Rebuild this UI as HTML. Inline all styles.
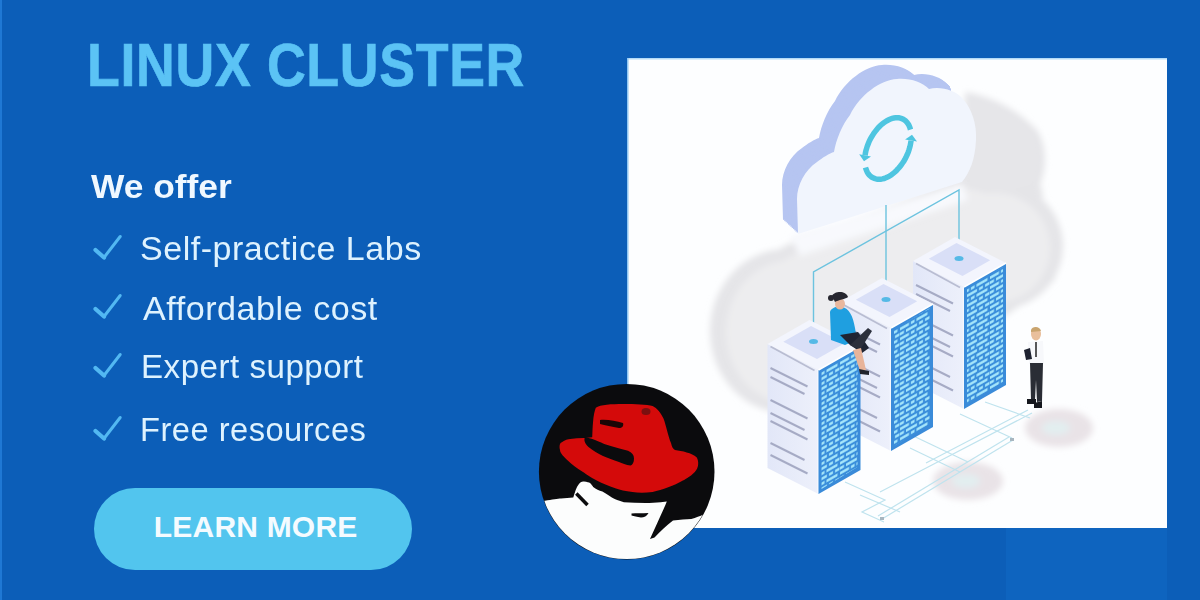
<!DOCTYPE html>
<html><head><meta charset="utf-8">
<style>
*{margin:0;padding:0;box-sizing:border-box}
html,body{width:1200px;height:600px;overflow:hidden;background:#0c5eb8}
body{position:relative;font-family:"Liberation Sans",sans-serif}
.abs{position:absolute;white-space:nowrap}
#title{left:86.6px;top:35px;-webkit-text-stroke:0.7px #5bc3f5;font-size:61px;font-weight:bold;color:#5bc3f5;line-height:1;letter-spacing:0.75px;transform:scaleX(0.88);transform-origin:0 0}
#offer{left:91.1px;top:169px;font-size:34px;font-weight:bold;color:#f0f8ff;line-height:1;transform:scaleX(1.04);transform-origin:0 0}
.li{font-size:33px;color:#def2fe;line-height:1;letter-spacing:0.5px;transform-origin:0 0}
.ck{left:93px;width:30px;height:26px}
#btn{left:94px;top:488px;width:318px;height:82px;border-radius:41px;background:#52c5ee}
#btntxt{left:153.8px;top:512px;font-size:30px;font-weight:bold;color:#f4fbff;line-height:1;letter-spacing:0.2px}
#band{left:1006px;top:528px;width:161px;height:72px;background:#0e64bf}
</style></head><body>
<div class="abs" id="band"></div>
<div class="abs" style="left:0;top:0;width:2px;height:600px;background:#1f78d4"></div>
<div class="abs" id="title">LINUX CLUSTER</div>
<div class="abs" id="offer">We offer</div>
<svg class="abs ck" style="top:234px" viewBox="0 0 30 26"><path d="M2.5 16 L11 23.5" stroke="#52b8f2" stroke-width="4.2" stroke-linecap="round"/><path d="M11 23.5 L27.2 2.5" stroke="#52b8f2" stroke-width="3" stroke-linecap="round"/></svg>
<div class="abs li" style="left:140.3px;top:232px;transform:scaleX(1.0315)">Self-practice Labs</div>
<svg class="abs ck" style="top:293px" viewBox="0 0 30 26"><path d="M2.5 16 L11 23.5" stroke="#52b8f2" stroke-width="4.2" stroke-linecap="round"/><path d="M11 23.5 L27.2 2.5" stroke="#52b8f2" stroke-width="3" stroke-linecap="round"/></svg>
<div class="abs li" style="left:142.5px;top:292px;transform:scaleX(1.0343)">Affordable cost</div>
<svg class="abs ck" style="top:352px" viewBox="0 0 30 26"><path d="M2.5 16 L11 23.5" stroke="#52b8f2" stroke-width="4.2" stroke-linecap="round"/><path d="M11 23.5 L27.2 2.5" stroke="#52b8f2" stroke-width="3" stroke-linecap="round"/></svg>
<div class="abs li" style="left:140.7px;top:350px;transform:scaleX(1.0037)">Expert support</div>
<svg class="abs ck" style="top:415px" viewBox="0 0 30 26"><path d="M2.5 16 L11 23.5" stroke="#52b8f2" stroke-width="4.2" stroke-linecap="round"/><path d="M11 23.5 L27.2 2.5" stroke="#52b8f2" stroke-width="3" stroke-linecap="round"/></svg>
<div class="abs li" style="left:140px;top:412.5px;transform:scaleX(0.9889)">Free resources</div>
<div class="abs" id="btn"></div>
<div class="abs" id="btntxt">LEARN MORE</div>

<svg class="abs" style="left:0;top:0" width="1200" height="600" viewBox="0 0 1200 600">
<defs>
 <clipPath id="boxclip"><rect x="627" y="58" width="540" height="470"/></clipPath>
 <linearGradient id="lf" x1="0" y1="0" x2="1" y2="0">
   <stop offset="0" stop-color="#e2e7f8"/><stop offset="1" stop-color="#edf0fb"/>
 </linearGradient>
 <pattern id="dash" width="30" height="10" patternUnits="userSpaceOnUse" patternTransform="skewY(-29.7)">
   <rect width="30" height="10" fill="#3a8edb"/>
   <g fill="#a9e9fc">
   <rect x="0" y="1.2" width="9" height="2.6"/><rect x="11" y="1.2" width="3.5" height="2.6"/><rect x="16.5" y="1.2" width="11" height="2.6"/>
   <rect x="0" y="6.2" width="4" height="2.6"/><rect x="6" y="6.2" width="11" height="2.6"/><rect x="19" y="6.2" width="4" height="2.6"/><rect x="25" y="6.2" width="4.5" height="2.6"/>
   </g>
 </pattern>
 <filter id="blur6" x="-30%" y="-30%" width="160%" height="160%"><feGaussianBlur stdDeviation="6"/></filter>
 <filter id="blur3" x="-30%" y="-30%" width="160%" height="160%"><feGaussianBlur stdDeviation="3"/></filter>
 <filter id="blur2" x="-30%" y="-30%" width="160%" height="160%"><feGaussianBlur stdDeviation="2"/></filter>
 <radialGradient id="blob" cx="0.55" cy="0.5" r="0.5">
   <stop offset="0" stop-color="#f1f1f3"/><stop offset="0.7" stop-color="#ebebee"/><stop offset="0.92" stop-color="#e0e0e4"/><stop offset="1" stop-color="#dadade"/>
 </radialGradient>
</defs>
<rect x="627" y="58" width="540" height="470" fill="#fdfeff"/>
<g clip-path="url(#boxclip)">
 <g filter="url(#blur3)">
  <g fill="#e5e5e8">
   <ellipse cx="786" cy="331" rx="76" ry="82"/>
   <circle cx="1000" cy="246" r="63"/>
   <path d="M965,92 C990,96 1015,108 1035,128 C1046,140 1048,165 1040,185 C1048,195 1040,260 1000,300 L960,260 Z"/>
   <path d="M745,290 C760,250 800,235 840,230 L960,175 L1040,200 L1055,280 L1000,320 L900,420 L800,420 Z"/>
  </g>
  <g fill="#ededef">
   <ellipse cx="792" cy="332" rx="66" ry="72"/>
   <circle cx="995" cy="248" r="55"/>
   <path d="M760,290 C775,258 805,246 840,240 L960,186 L1030,205 L1042,270 L995,312 L900,410 L805,410 Z"/>
  </g>
  <path d="M968,100 C990,104 1010,114 1028,132 C1038,145 1038,165 1032,182 L1000,190 L970,180 Z" fill="#e6e6e9"/>
 </g>
 <g filter="url(#blur3)">
  <ellipse cx="1059" cy="428" rx="34" ry="19" fill="#e9e3e7"/><ellipse cx="1056" cy="428" rx="14" ry="7" fill="#e2eef0"/>
  <ellipse cx="968" cy="481" rx="35" ry="19" fill="#e9e3e7"/><ellipse cx="966" cy="481" rx="14" ry="7" fill="#e2eef0"/>
 </g>
 <g stroke="#bfe3ee" stroke-width="1.2" fill="none">
  <polyline points="1013,440 882,519"/><polyline points="1009,437 878,516"/>
  <polyline points="1032,413 930,466 880,492"/><polyline points="1028,410 926,463"/>
  <polyline points="985,402 1030,418"/><polyline points="960,414 1012,438"/>
  <polyline points="905,432 968,462"/><polyline points="910,448 960,472"/>
  <polyline points="845,482 885,500 862,512 884,522"/><polyline points="860,495 900,512"/>
 </g>
 <rect x="1010" y="438" width="4" height="3" fill="#a7b6c0"/>
 <rect x="880" y="517" width="4" height="3" fill="#a7b6c0"/>
 <path d="M790,236 L962,184 L968,200 L800,256 Z" fill="#f8f9fd" filter="url(#blur3)"/>
 <clipPath id="lavclip"><polygon points="700,40 938,40 953,100 953,300 700,300"/></clipPath><g clip-path="url(#lavclip)"><path d="M798,234 L797,199 C797,185 805,170 817,162 C822,158 830,153 834,152 C836,140 842,125 850,115 C860,95 880,80 897,79 C910,78 922,82 929,89 C940,86 955,90 962,98 C972,108 977,125 976,140 C975,160 970,172 962,182 Z" transform="translate(-15.00,-14.00)" fill="#b6c5f1"/>
<path d="M798,234 L797,199 C797,185 805,170 817,162 C822,158 830,153 834,152 C836,140 842,125 850,115 C860,95 880,80 897,79 C910,78 922,82 929,89 C940,86 955,90 962,98 C972,108 977,125 976,140 C975,160 970,172 962,182 Z" transform="translate(-13.75,-12.83)" fill="#b6c5f1"/>
<path d="M798,234 L797,199 C797,185 805,170 817,162 C822,158 830,153 834,152 C836,140 842,125 850,115 C860,95 880,80 897,79 C910,78 922,82 929,89 C940,86 955,90 962,98 C972,108 977,125 976,140 C975,160 970,172 962,182 Z" transform="translate(-12.50,-11.67)" fill="#b6c5f1"/>
<path d="M798,234 L797,199 C797,185 805,170 817,162 C822,158 830,153 834,152 C836,140 842,125 850,115 C860,95 880,80 897,79 C910,78 922,82 929,89 C940,86 955,90 962,98 C972,108 977,125 976,140 C975,160 970,172 962,182 Z" transform="translate(-11.25,-10.50)" fill="#b6c5f1"/>
<path d="M798,234 L797,199 C797,185 805,170 817,162 C822,158 830,153 834,152 C836,140 842,125 850,115 C860,95 880,80 897,79 C910,78 922,82 929,89 C940,86 955,90 962,98 C972,108 977,125 976,140 C975,160 970,172 962,182 Z" transform="translate(-10.00,-9.33)" fill="#b6c5f1"/>
<path d="M798,234 L797,199 C797,185 805,170 817,162 C822,158 830,153 834,152 C836,140 842,125 850,115 C860,95 880,80 897,79 C910,78 922,82 929,89 C940,86 955,90 962,98 C972,108 977,125 976,140 C975,160 970,172 962,182 Z" transform="translate(-8.75,-8.17)" fill="#b6c5f1"/>
<path d="M798,234 L797,199 C797,185 805,170 817,162 C822,158 830,153 834,152 C836,140 842,125 850,115 C860,95 880,80 897,79 C910,78 922,82 929,89 C940,86 955,90 962,98 C972,108 977,125 976,140 C975,160 970,172 962,182 Z" transform="translate(-7.50,-7.00)" fill="#b6c5f1"/>
<path d="M798,234 L797,199 C797,185 805,170 817,162 C822,158 830,153 834,152 C836,140 842,125 850,115 C860,95 880,80 897,79 C910,78 922,82 929,89 C940,86 955,90 962,98 C972,108 977,125 976,140 C975,160 970,172 962,182 Z" transform="translate(-6.25,-5.83)" fill="#b6c5f1"/>
<path d="M798,234 L797,199 C797,185 805,170 817,162 C822,158 830,153 834,152 C836,140 842,125 850,115 C860,95 880,80 897,79 C910,78 922,82 929,89 C940,86 955,90 962,98 C972,108 977,125 976,140 C975,160 970,172 962,182 Z" transform="translate(-5.00,-4.67)" fill="#b6c5f1"/>
<path d="M798,234 L797,199 C797,185 805,170 817,162 C822,158 830,153 834,152 C836,140 842,125 850,115 C860,95 880,80 897,79 C910,78 922,82 929,89 C940,86 955,90 962,98 C972,108 977,125 976,140 C975,160 970,172 962,182 Z" transform="translate(-3.75,-3.50)" fill="#b6c5f1"/>
<path d="M798,234 L797,199 C797,185 805,170 817,162 C822,158 830,153 834,152 C836,140 842,125 850,115 C860,95 880,80 897,79 C910,78 922,82 929,89 C940,86 955,90 962,98 C972,108 977,125 976,140 C975,160 970,172 962,182 Z" transform="translate(-2.50,-2.33)" fill="#b6c5f1"/>
<path d="M798,234 L797,199 C797,185 805,170 817,162 C822,158 830,153 834,152 C836,140 842,125 850,115 C860,95 880,80 897,79 C910,78 922,82 929,89 C940,86 955,90 962,98 C972,108 977,125 976,140 C975,160 970,172 962,182 Z" transform="translate(-1.25,-1.17)" fill="#b6c5f1"/></g><path d="M798,234 L797,199 C797,185 805,170 817,162 C822,158 830,153 834,152 C836,140 842,125 850,115 C860,95 880,80 897,79 C910,78 922,82 929,89 C940,86 955,90 962,98 C972,108 977,125 976,140 C975,160 970,172 962,182 Z" fill="#f1f5fd"/>
 <g fill="none" stroke="#4ec5e0" stroke-width="5.5">
<polyline points="865.1,155.3 865.4,153.1 865.9,150.8 866.6,148.5 867.3,146.1 868.2,143.9 869.1,141.6 870.2,139.3 871.4,137.2 872.7,135.1 874.0,133.0 875.5,131.1 877.0,129.2 878.5,127.5 880.2,125.8 881.8,124.3 883.5,123.0 885.3,121.8 887.0,120.7 888.8,119.8 890.5,119.0 892.2,118.4 893.9,118.0 895.6,117.8 897.2,117.7 898.8,117.8 900.3,118.1 901.8,118.6 903.2,119.2 904.4,120.0 905.6,120.9 906.7,122.0 907.7,123.3 908.6,124.7 909.3,126.2 910.0,127.9 910.5,129.6"/><polyline points="911.1,140.6 910.7,142.9 910.3,145.2 909.7,147.6 909.0,149.9 908.2,152.2 907.3,154.5 906.2,156.8 905.0,159.1 903.8,161.2 902.4,163.3 901.0,165.3 899.5,167.2 897.9,169.0 896.3,170.7 894.6,172.3 892.9,173.7 891.2,175.0 889.4,176.1 887.6,177.0 885.9,177.8 884.1,178.5 882.4,178.9 880.7,179.2 879.0,179.3 877.4,179.2 875.9,178.9 874.4,178.5 873.0,177.9 871.7,177.1 870.5,176.2 869.3,175.1 868.3,173.8 867.4,172.4 866.7,170.8 866.0,169.2 865.5,167.4"/></g><polygon points="864.0,161.2 859.2,154.2 871.0,156.5" fill="#4ec5e0"/><polygon points="912.0,134.7 917.0,141.6 905.1,139.6" fill="#4ec5e0"/>
 <g stroke="#6cc3df" stroke-width="1.4" fill="none">
  <polyline points="959.0,258.5 959.0,190 813.5,272 813.5,341.5"/>
  <line x1="886.0" y1="299.5" x2="886.0" y2="205"/>
 </g>
 <polygon points="913.0,261.0 964.0,287.0 964.0,409.0 913.0,383.0" fill="url(#lf)"/>
<line x1="916.0" y1="285.0" x2="953.0" y2="303.5" stroke="#a6abc5" stroke-width="2"/>
<line x1="916.0" y1="294.0" x2="950.0" y2="311.0" stroke="#a6abc5" stroke-width="2"/>
<line x1="916.0" y1="317.0" x2="953.0" y2="335.5" stroke="#a6abc5" stroke-width="2"/>
<line x1="916.0" y1="330.0" x2="950.0" y2="347.0" stroke="#a6abc5" stroke-width="2"/>
<line x1="916.0" y1="338.0" x2="953.0" y2="356.5" stroke="#a6abc5" stroke-width="2"/>
<line x1="916.0" y1="360.0" x2="950.0" y2="377.0" stroke="#a6abc5" stroke-width="2"/>
<line x1="916.0" y1="372.0" x2="953.0" y2="390.5" stroke="#a6abc5" stroke-width="2"/>
<line x1="963.5" y1="287.0" x2="963.5" y2="409.0" stroke="#f6f8fe" stroke-width="1.5"/>
<polygon points="964.0,287.0 1006.0,263.0 1006.0,385.0 964.0,409.0" fill="#3a8bd9"/>
<polygon points="967.0,289.0 1003.0,267.0 1003.0,382.0 967.0,404.0" fill="url(#dash)"/>
<polygon points="913.0,261.0 955.0,237.0 1006.0,263.0 964.0,287.0" fill="#f3f5fd"/>
<polygon points="928.8,258.8 956.5,243.0 990.2,260.2 962.5,276.0" fill="#d9dff7"/>
<polyline points="964.0,287.0 1006.0,263.0" fill="none" stroke="#ffffff" stroke-width="1.6"/>
<line x1="916.0" y1="263.5" x2="960.0" y2="287.5" stroke="#b9bdd2" stroke-width="1.8"/>
<ellipse cx="959.0" cy="258.5" rx="4.5" ry="2.5" fill="#55b9e6"/>
 <polygon points="840.0,302.0 891.0,328.0 891.0,451.0 840.0,425.0" fill="url(#lf)"/>
<line x1="843.0" y1="326.0" x2="880.0" y2="344.5" stroke="#a6abc5" stroke-width="2"/>
<line x1="843.0" y1="335.0" x2="877.0" y2="352.0" stroke="#a6abc5" stroke-width="2"/>
<line x1="843.0" y1="358.0" x2="880.0" y2="376.5" stroke="#a6abc5" stroke-width="2"/>
<line x1="843.0" y1="371.0" x2="877.0" y2="388.0" stroke="#a6abc5" stroke-width="2"/>
<line x1="843.0" y1="379.0" x2="880.0" y2="397.5" stroke="#a6abc5" stroke-width="2"/>
<line x1="843.0" y1="401.0" x2="877.0" y2="418.0" stroke="#a6abc5" stroke-width="2"/>
<line x1="843.0" y1="413.0" x2="880.0" y2="431.5" stroke="#a6abc5" stroke-width="2"/>
<line x1="890.5" y1="328.0" x2="890.5" y2="451.0" stroke="#f6f8fe" stroke-width="1.5"/>
<polygon points="891.0,328.0 933.0,304.0 933.0,427.0 891.0,451.0" fill="#3a8bd9"/>
<polygon points="894.0,330.0 930.0,308.0 930.0,424.0 894.0,446.0" fill="url(#dash)"/>
<polygon points="840.0,302.0 882.0,278.0 933.0,304.0 891.0,328.0" fill="#f3f5fd"/>
<polygon points="855.8,299.8 883.5,284.0 917.2,301.2 889.5,317.0" fill="#d9dff7"/>
<polyline points="891.0,328.0 933.0,304.0" fill="none" stroke="#ffffff" stroke-width="1.6"/>
<line x1="843.0" y1="304.5" x2="887.0" y2="328.5" stroke="#b9bdd2" stroke-width="1.8"/>
<ellipse cx="886.0" cy="299.5" rx="4.5" ry="2.5" fill="#55b9e6"/>
 <polygon points="767.5,344.0 818.5,370.0 818.5,494.0 767.5,468.0" fill="url(#lf)"/>
<line x1="770.5" y1="368.0" x2="807.5" y2="386.5" stroke="#a6abc5" stroke-width="2"/>
<line x1="770.5" y1="377.0" x2="804.5" y2="394.0" stroke="#a6abc5" stroke-width="2"/>
<line x1="770.5" y1="400.0" x2="807.5" y2="418.5" stroke="#a6abc5" stroke-width="2"/>
<line x1="770.5" y1="413.0" x2="804.5" y2="430.0" stroke="#a6abc5" stroke-width="2"/>
<line x1="770.5" y1="421.0" x2="807.5" y2="439.5" stroke="#a6abc5" stroke-width="2"/>
<line x1="770.5" y1="443.0" x2="804.5" y2="460.0" stroke="#a6abc5" stroke-width="2"/>
<line x1="770.5" y1="455.0" x2="807.5" y2="473.5" stroke="#a6abc5" stroke-width="2"/>
<line x1="818.0" y1="370.0" x2="818.0" y2="494.0" stroke="#f6f8fe" stroke-width="1.5"/>
<polygon points="818.5,370.0 860.5,346.0 860.5,470.0 818.5,494.0" fill="#3a8bd9"/>
<polygon points="821.5,372.0 857.5,350.0 857.5,467.0 821.5,489.0" fill="url(#dash)"/>
<polygon points="767.5,344.0 809.5,320.0 860.5,346.0 818.5,370.0" fill="#f3f5fd"/>
<polygon points="783.3,341.8 811.0,326.0 844.7,343.2 817.0,359.0" fill="#d9dff7"/>
<polyline points="818.5,370.0 860.5,346.0" fill="none" stroke="#ffffff" stroke-width="1.6"/>
<line x1="770.5" y1="346.5" x2="814.5" y2="370.5" stroke="#b9bdd2" stroke-width="1.8"/>
<ellipse cx="813.5" cy="341.5" rx="4.5" ry="2.5" fill="#55b9e6"/>
 
 <path d="M830,312 C831,308 836,306 842,307 C849,308 853,316 855,328 L857,340 L845,345 L831,340 Z" fill="#1f9fe0"/>
 <ellipse cx="840" cy="304" rx="5" ry="5.5" fill="#e8b79e"/>
 <path d="M832,296 C834,291 846,290 848,297 C846,299 838,300 835,302 Z" fill="#26262f"/>
 <circle cx="831" cy="298" r="3" fill="#26262f"/>
 <path d="M840,335 L858,332 L869,348 L862,353 L850,345 Z" fill="#1f2433"/>
 <path d="M850,345 L868,328 L872,331 L860,350 Z" fill="#2b2f3c"/>
 <path d="M853,350 L861,348 L866,370 L860,371 Z" fill="#e8b49a"/>
 <path d="M859,369 L869,371 L869,375 L860,374 Z" fill="#20232c"/>

 
 <ellipse cx="1036" cy="334" rx="5" ry="6.5" fill="#e9bf9c"/>
 <path d="M1031,330 C1032,326 1040,326 1041,331 L1031,332 Z" fill="#c9a46e"/>
 <path d="M1028,342 L1043,341 L1044,364 L1029,364 Z" fill="#f7f8fb"/>
 <line x1="1036" y1="342" x2="1036" y2="357" stroke="#222" stroke-width="1.5"/>
 <path d="M1024,350 L1030,348 L1032,359 L1026,360 Z" fill="#1e2230"/>
 <path d="M1030,363 L1043,363 L1042,401 L1037,402 L1036,380 L1035,400 L1031,400 Z" fill="#2a2d35"/>
 <path d="M1027,399 L1036,399 L1036,404 L1027,404 Z" fill="#15171d"/>
 <path d="M1034,403 L1042,401 L1042,408 L1034,408 Z" fill="#15171d"/>

 <rect x="627" y="58" width="540" height="1.5" fill="#b4dbf8"/>
 <rect x="627" y="58" width="1.5" height="470" fill="#8fc6f2"/>
</g>

 <defs><clipPath id="rhc"><circle cx="626.7" cy="471.7" r="87.4"/></clipPath></defs>
 <circle cx="626.7" cy="471.7" r="87.8" fill="#0b0b0d"/>
 <g clip-path="url(#rhc)">
  <path d="M530,501 L545,500.7 C552,499.5 558,498.5 561,498.4 L573.3,497.6 C575,492 576.5,487 578.6,484.6 C580,482 582,481.2 584,481.5 C587,481.8 589,482.5 590,483 C591.5,484.5 592.5,486 593.2,486.9 C596,489 599,490.5 602.4,491.5 C607,494 611,497 614.7,499.1 C618,500.5 621,501.6 623.9,502.2 C631,502.8 638,503 645.3,503 C651,502.8 656,502.5 660.7,502.2 L666.8,501.4 L665.3,505.3 C661,515 655,528 650,539 L654.5,537.5 C660,532 667,525 673,520.6 C680,519.5 686,519.2 691.3,519 C696,517.5 700,516 703.6,514.5 L720,512 L720,570 L530,570 Z" fill="#fcfdfd"/>
  <line x1="576.3" y1="493.5" x2="587.5" y2="505" stroke="#0b0b0d" stroke-width="3.5"/>
  <path d="M631.5,513.5 C636,513 642,513.5 648.5,513 C647,516 644,517.5 641,517.5 C637,517 634,516 631.5,515.5 Z" fill="#0b0b0d"/>
  <path d="M595.8,407.8 C600,404.5 612,404 623,404 C635,404 647,404.5 652.6,406 C657,408 661,413 663.6,418.8 C666,425 668,436 671,443 C672,447 673,449 675,450 C682,451 692,453 696.6,457.3 C699,461 699,468 694.8,472 C690,477 684,480 682,481 C675,485 662,490 652.6,492 C645,493 638,493 632.5,492 C625,491 620,490 616,488.5 C608,486 602,483 597.7,481 C590,477 586,474 583,472 C577,468 572,465 568.3,461 C564,457 560,453 560,450 C559,446 560,443 561,442.7 C565,440 568,439 570.2,439 C575,438.5 580,438 584.8,438.1 L592.2,437.2 C592.5,432 592.5,427 593,422.5 C593.5,416 594.5,411 595.8,407.8 Z" fill="#d40a0a"/>
  <path d="M585,437 C595,439.5 600,442 605,444.3 C614,447.5 622,449 628,450.8 C632,452.5 634,455 634,458.5 C634,462.5 632.5,465 630.6,465.6 C626,465 622,463 619,462 C613,460 608,458 603,456 C598,453.5 592,450 588.5,447 C585,444 583.5,440 585,437 Z" fill="#0b0b0d"/>
  <path d="M600,420 C606,419 616,421 623,423 C624,426 622,428 619,428 C612,427 605,425 600,424 Z" fill="#1a0606"/>
  <ellipse cx="646" cy="411.5" rx="4.5" ry="3.5" fill="#7a1010"/>
 </g>

</svg>

</body></html>
